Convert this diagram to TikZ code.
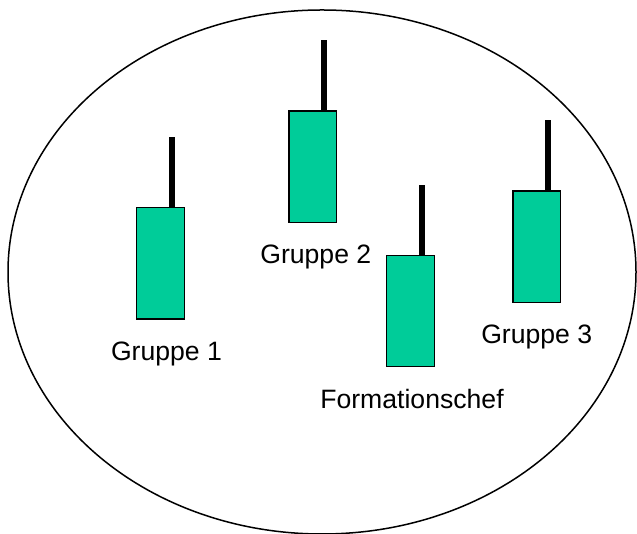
\documentclass[tikz,border=0pt]{standalone}
\usepackage{fontspec}
\setmainfont{Liberation Sans}
\usetikzlibrary{positioning}

\definecolor{gruen}{RGB}{0,204,153}

\tikzset{
  gruppe/.style={draw=black,line width=1.4pt,fill=gruen,minimum width=47.5pt,minimum height=111.5pt,inner sep=0pt},
  stab/.style={line width=6pt},
  schild/.style={font=\fontsize{26.6}{30}\selectfont,inner sep=0pt}
}

\begin{document}
\begin{tikzpicture}[x=1pt,y=1pt]
\useasboundingbox (0,0) rectangle (637,534);

\draw[line width=1.5pt] (322,262) ellipse (314pt and 262pt);

% die Gruppen mit Stab
\node[gruppe] (g1) at (160.5,270.7) {};
\node[gruppe] (g2) at (312.8,367.3) {};
\node[gruppe] (fc) at (410.5,223) {};
\node[gruppe] (g3) at (536.7,287.3) {};

\foreach \g in {g1,g2,fc,g3}
  \draw[stab] ([xshift=11pt]\g.north) -- ++(0,70);

\node[schild,below=21.5pt of g1,xshift=6pt] (l1) {Gruppe 1};
\node[schild,below=21.5pt of g2,xshift=3pt] (l2) {Gruppe 2};
\node[schild,below=21.5pt of fc,xshift=1.5pt] (lf) {Formationschef};
\node[schild,below=21.5pt of g3] (l3) {Gruppe 3};

\end{tikzpicture}
\end{document}
